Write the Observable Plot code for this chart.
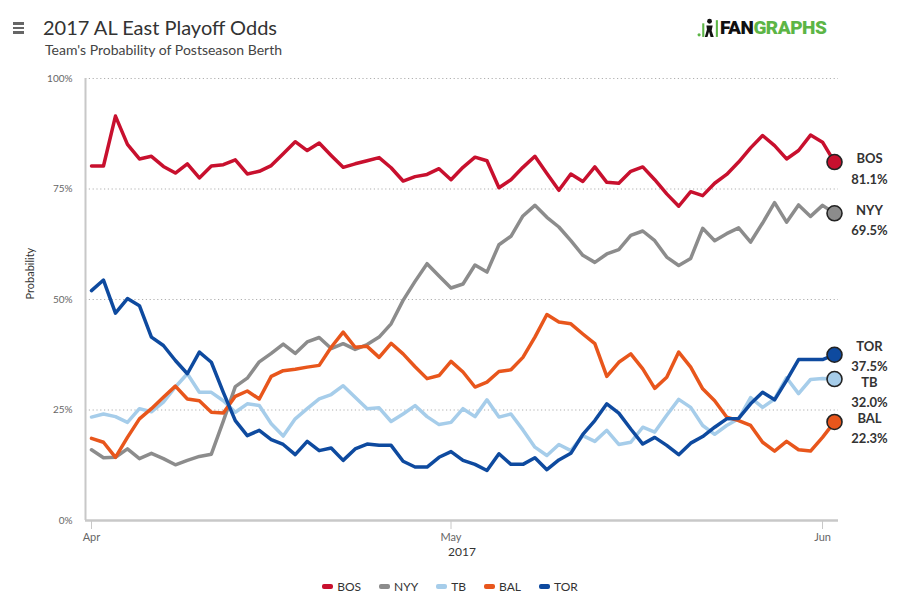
<!DOCTYPE html>
<html>
<head>
<meta charset="utf-8">
<script src="https://cdn.jsdelivr.net/npm/d3@7"></script>
<script src="https://cdn.jsdelivr.net/npm/@observablehq/plot@0.6"></script>
<style>
  html, body { margin: 0; padding: 0; background: #fff; }
  #wrap { position: relative; width: 900px; height: 600px; font-family: Lato, "Open Sans", sans-serif; overflow: hidden; }
  #menu { position: absolute; left: 13px; top: 22px; width: 11px; }
  #menu div { height: 2.5px; background: #666; margin-bottom: 2px; }
  #title { position: absolute; left: 43px; top: 15px; font-size: 20px; color: #333; white-space: nowrap; }
  #subtitle { position: absolute; left: 45px; top: 41px; font-size: 14px; color: #444; white-space: nowrap; }
  #logo { position: absolute; left: 697px; top: 16px; display: flex; align-items: center; font-family: Roboto, sans-serif; font-weight: 900; font-size: 19px; letter-spacing: -0.5px; white-space: nowrap; }
  #logo .fan { color: #111; }
  #logo .graphs { color: #5cb546; }
  #chart { position: absolute; left: 0; top: 62px; }
  #legend { position: absolute; left: 0; width: 900px; top: 579px; display: flex; justify-content: center; gap: 18px; font-size: 12px; color: #333; }
  #legend .item { display: flex; align-items: center; gap: 4px; }
  #legend .sw { width: 11px; height: 5px; border-radius: 2px; display: inline-block; }
</style>
</head>
<body>
<div id="wrap">
  <div id="menu"><div></div><div></div><div></div></div>
  <div id="title">2017 AL East Playoff Odds</div>
  <div id="subtitle">Team's Probability of Postseason Berth</div>
  <div id="logo">
    <svg width="23" height="21" viewBox="0 0 22 20">
      <circle cx="2" cy="17" r="1.5" fill="#5cb546"/>
      <rect x="5" y="6" width="2" height="13" fill="#5cb546"/>
      <circle cx="12" cy="4" r="2.3" fill="#111"/>
      <path d="M9 8 L15 8 L14 13 L16 19 L13 19 L11.5 14 L10 19 L7.5 19 L9.5 12 Z" fill="#111"/>
      <rect x="18" y="3" width="2" height="16" fill="#5cb546"/>
    </svg>
    <span class="fan">FAN</span><span class="graphs">GRAPHS</span>
  </div>
  <div id="chart"></div>
  <div id="legend"></div>
</div>
<script>
// ---- data ----
const teams = ["BOS", "NYY", "TB", "BAL", "TOR"];
const teamColors = ["#c8102e", "#8c8c8c", "#a6cdea", "#e8561c", "#0e4a9f"];
const startDate = "2017-04-01";
const endDate = "2017-06-02";
const monthTicks = ["2017-04-01", "2017-05-01", "2017-06-01"];
const yTicks = [0, 25, 50, 75, 100];

const bos = [80.2, 80.2, 91.5, 85.1, 81.8, 82.4, 80.1, 78.6, 80.7, 77.5,
             80.2, 80.5, 81.6, 78.4, 79.0, 80.3, 83.0, 85.7, 83.7, 85.4,
             82.6, 79.9, 80.7, 81.4, 82.1, 79.8, 76.8, 77.8, 78.3, 79.6,
             77.1, 79.9, 82.2, 81.4, 75.3, 77.1, 79.9, 82.4, 78.5, 74.7,
             78.4, 76.7, 80.0, 76.5, 76.3, 79.0, 80.0, 77.1, 73.9, 71.1,
             74.4, 73.5, 76.3, 78.3, 81.1, 84.3, 87.1, 84.8, 81.8, 83.7,
             87.2, 85.6, 81.1];
const nyy = [16.0, 14.2, 14.3, 16.2, 14.0, 15.2, 14.0, 12.6, 13.6, 14.5,
             15.0, 22.5, 30.3, 32.2, 35.9, 37.8, 39.9, 37.8, 40.4, 41.4,
             38.9, 40.0, 38.7, 39.8, 41.5, 44.5, 49.8, 54.1, 58.1, 55.3,
             52.6, 53.5, 57.8, 56.2, 62.4, 64.3, 68.9, 71.3, 68.6, 66.4,
             63.3, 60.0, 58.4, 60.3, 61.3, 64.5, 65.5, 63.3, 59.6, 57.7,
             59.3, 66.1, 63.3, 64.9, 66.2, 63.0, 67.3, 71.9, 67.5, 71.4,
             68.8, 71.3, 69.5];
const tb  = [23.4, 24.1, 23.5, 22.2, 25.3, 24.6, 26.8, 30.2, 33.2, 29.0,
             29.0, 27.1, 24.5, 26.4, 26.0, 21.9, 19.1, 23.0, 25.3, 27.5,
             28.5, 30.5, 27.9, 25.3, 25.5, 22.4, 24.1, 26.0, 23.5, 21.7,
             22.2, 25.3, 23.5, 27.3, 23.4, 24.1, 20.5, 16.6, 14.7, 17.2,
             15.8, 19.2, 17.9, 20.4, 17.2, 17.7, 21.1, 20.0, 23.8, 27.4,
             25.6, 21.5, 19.5, 21.5, 23.0, 27.8, 25.6, 27.5, 32.3, 28.7,
             31.9, 32.1, 32.0];
const bal = [18.6, 17.7, 14.3, 18.8, 23.0, 25.3, 27.9, 30.4, 27.5, 27.1,
             24.5, 24.3, 28.1, 29.3, 27.5, 32.6, 33.9, 34.2, 34.7, 35.1,
             39.2, 42.6, 39.2, 39.4, 36.9, 40.1, 37.7, 34.8, 32.1, 32.8,
             36.0, 33.6, 30.2, 31.3, 33.7, 34.1, 36.9, 41.5, 46.6, 44.9,
             44.5, 42.2, 40.0, 32.6, 35.8, 37.7, 34.3, 29.9, 32.4, 38.1,
             34.7, 29.8, 27.1, 23.4, 22.6, 21.5, 17.7, 15.7, 17.9, 16.0,
             15.7, 18.8, 22.3];
const tor = [52.0, 54.4, 46.9, 50.2, 48.6, 41.5, 39.6, 36.2, 33.2, 38.1,
             35.8, 29.0, 22.6, 19.2, 20.4, 18.3, 17.2, 14.9, 17.9, 15.8,
             16.4, 13.6, 16.2, 17.3, 17.0, 17.0, 13.4, 12.1, 12.1, 14.3,
             15.6, 13.6, 12.7, 11.3, 15.1, 12.7, 12.7, 14.2, 11.5, 13.7,
             15.2, 19.5, 22.6, 26.4, 24.3, 20.7, 17.3, 18.8, 17.0, 14.9,
             17.5, 19.0, 21.1, 23.0, 23.1, 26.4, 29.0, 27.3, 31.7, 36.4,
             36.4, 36.4, 37.5];

// ---- build table ----
const series = [bos, nyy, tb, bal, tor];
const dates = d3.utcDay.range(new Date(startDate), d3.utcDay.offset(new Date(endDate), 1));
const rows = [];
teams.forEach((t, k) => series[k].forEach((v, i) => rows.push({team: t, date: dates[i], value: v})));
const last = teams.map((t, k) => ({team: t, date: dates[dates.length - 1], value: series[k][series[k].length - 1]}));

// dodge end labels (in value units): push apart, then re-centre each colliding cluster
const pxPerUnit = 442 / 100;
const minGap = 36 / pxPerUnit;
const labels = last.slice().sort((a, b) => b.value - a.value);
labels.forEach(d => { d.want = d.value - 5 / pxPerUnit; });
let clusters = [];
for (const d of labels) {
  const cur = clusters[clusters.length - 1];
  if (cur && cur[cur.length - 1].labelY - minGap < d.want) {
    d.labelY = cur[cur.length - 1].labelY - minGap;
    cur.push(d);
  } else {
    d.labelY = d.want;
    clusters.push([d]);
  }
}
for (const c of clusters) {
  if (c.length < 2) continue;
  const shift = d3.mean(c, d => d.want - d.labelY);
  c.forEach(d => { d.labelY += shift; });
}

const xDomain = [new Date("2017-03-31T12:00:00Z"), new Date("2017-06-02T08:00:00Z")];

const chart = Plot.plot({
  width: 900,
  height: 510,
  marginTop: 16,
  marginBottom: 52,
  marginLeft: 85,
  marginRight: 62,
  style: {fontFamily: "Lato, 'Open Sans', sans-serif", background: "white", overflow: "visible"},
  x: {type: "utc", domain: xDomain, axis: null},
  y: {domain: [0, 100], axis: null},
  color: {domain: teams, range: teamColors},
  marks: [
    Plot.ruleY(yTicks.filter(d => d > 0), {stroke: "#b0b0b0", strokeDasharray: "1.2,2.6", strokeWidth: 1.2}),
    Plot.ruleX([xDomain[0]], {stroke: "#c8c8c8", strokeWidth: 2}),
    Plot.ruleY([0], {stroke: "#c8c8c8", strokeWidth: 2.5}),
    Plot.axisY({ticks: yTicks, tickFormat: d => d + "%", tickSize: 0, tickPadding: 13, fontSize: 10, fill: "#666", label: null}),
    Plot.axisX({ticks: monthTicks.map(d => new Date(d)), tickFormat: d3.utcFormat("%b"), tickSize: 9, tickPadding: 4,
                stroke: "#c8c8c8", fill: "#666", fontSize: 11, label: null}),
    Plot.text(["2017"], {frameAnchor: "bottom", dy: 35, fontSize: 12, fill: "#333"}),
    Plot.text(["Probability"], {frameAnchor: "left", dx: -55, rotate: -90, fontSize: 11, fill: "#333"}),
    Plot.line(rows, {x: "date", y: "value", z: "team", stroke: "team", strokeWidth: 3.5, strokeLinejoin: "round", strokeLinecap: "round"}),
    Plot.dot(last, {x: "date", y: "value", fill: "team", stroke: "#222", strokeWidth: 1.6, r: 7.5}),
    Plot.text(labels, {x: "date", y: "labelY", text: d => d.team + "\n" + d.value.toFixed(1) + "%", dx: 35,
                       lineHeight: 1.55, fontSize: 13, fontWeight: "bold", fill: "#333"})
  ]
});
document.getElementById("chart").appendChild(chart);

// legend
const legend = document.getElementById("legend");
teams.forEach((t, k) => {
  const item = document.createElement("div");
  item.className = "item";
  const sw = document.createElement("span");
  sw.className = "sw";
  sw.style.background = teamColors[k];
  const tx = document.createElement("span");
  tx.textContent = t;
  item.appendChild(sw);
  item.appendChild(tx);
  legend.appendChild(item);
});
</script>
</body>
</html>
